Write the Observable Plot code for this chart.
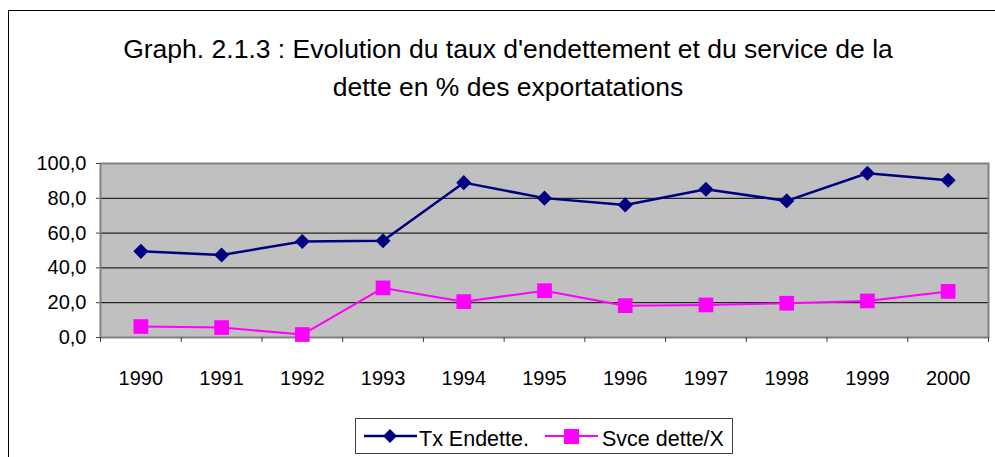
<!DOCTYPE html>
<html>
<head>
<meta charset="utf-8">
<script src="https://cdn.jsdelivr.net/npm/d3@7"></script>
<script src="https://cdn.jsdelivr.net/npm/@observablehq/plot@0.6"></script>
<style>
  body { margin: 0; background: #fff; font-family: "Liberation Sans", Arial, sans-serif; }
  #wrap { position: relative; width: 995px; height: 457px; overflow: hidden; background: #fff; }
  #border { position: absolute; left: 8px; top: 10px; width: 1100px; height: 600px; border: 1px solid #000; box-sizing: border-box; }
  #title { position: absolute; left: 0; top: 30px; width: 1016px; text-align: center; font-size: 26.5px; line-height: 38px; color: #000; white-space: nowrap; }
  #chart { position: absolute; left: 0; top: 140px; }
  #legend { position: absolute; left: 355px; top: 418px; width: 378px; height: 36px; border: 1px solid #404040; box-sizing: border-box; background: #fff; }
  #legend .sw { position: absolute; top: 0; }
  #legend .lb { position: absolute; top: 10px; font-size: 21.5px; line-height: 21px; color: #000; white-space: nowrap; }
</style>
</head>
<body>
<div id="wrap">
  <div id="border"></div>
  <div id="title">Graph. 2.1.3 : Evolution du taux d'endettement et du service de la<br>dette en % des exportatations</div>
  <div id="chart"></div>
  <div id="legend"></div>
</div>
<script>
const years = [1990, 1991, 1992, 1993, 1994, 1995, 1996, 1997, 1998, 1999, 2000];
const txEndette = [49.5, 47.4, 55.2, 55.6, 89.0, 80.1, 76.2, 85.2, 78.5, 94.4, 90.4];
const svceDette = [6.3, 5.7, 1.7, 28.5, 20.6, 26.9, 18.3, 18.7, 19.7, 21.0, 26.5];
const yTicks = [0, 20, 40, 60, 80, 100];
const gridTicks = [20, 40, 60, 80];
const seriesNames = ["Tx Endette.", "Svce dette/X"];
const seriesColors = ["#000080", "#ff00ff"];

const data1 = years.map((year, i) => ({year, value: txEndette[i]}));
const data2 = years.map((year, i) => ({year, value: svceDette[i]}));
const bounds = [...years.map(y => y - 0.5), years[years.length - 1] + 0.5];

const chart = Plot.plot({
  width: 995,
  height: 260,
  marginLeft: 100,
  marginRight: 7,
  marginTop: 23,
  marginBottom: 63,
  x: {type: "linear", domain: [bounds[0], bounds[bounds.length - 1]], label: null},
  y: {domain: [0, 100], label: null},
  style: {fontFamily: "'Liberation Sans', Arial, sans-serif", fontSize: "20px", color: "#000", background: "transparent", overflow: "visible"},
  marks: [
    Plot.frame({fill: "#c0c0c0"}),
    Plot.gridY(gridTicks, {stroke: "#000", strokeOpacity: 1, strokeWidth: 1}),
    Plot.frame({stroke: "#808080", strokeWidth: 2}),
    Plot.axisY(yTicks, {tickSize: 4, tickPadding: 10, stroke: "#404040", tickFormat: d => d.toFixed(1).replace(".", ",")}),
    Plot.axisX(bounds, {tickSize: 5, stroke: "#404040", tickFormat: () => ""}),
    Plot.axisX(years, {tickSize: 0, tickPadding: 33, tickFormat: d => String(d)}),
    Plot.line(data1, {x: "year", y: "value", stroke: seriesColors[0], strokeWidth: 2.5}),
    Plot.dot(data1, {x: "year", y: "value", symbol: "diamond2", r: 6.8, fill: seriesColors[0], stroke: "none"}),
    Plot.line(data2, {x: "year", y: "value", stroke: seriesColors[1], strokeWidth: 2}),
    Plot.dot(data2, {x: "year", y: "value", symbol: "square", r: 8.3, fill: seriesColors[1], stroke: "none"})
  ]
});
document.getElementById("chart").appendChild(chart);

// Legend
const legend = document.getElementById("legend");
const ns = "http://www.w3.org/2000/svg";
const items = [
  {name: seriesNames[0], color: seriesColors[0], sym: "diamond", swLeft: 7, textLeft: 63},
  {name: seriesNames[1], color: seriesColors[1], sym: "square", swLeft: 188, textLeft: 246}
];
items.forEach(it => {
  const svg = document.createElementNS(ns, "svg");
  svg.setAttribute("class", "sw");
  svg.setAttribute("width", "56");
  svg.setAttribute("height", "34");
  svg.style.left = it.swLeft + "px";
  const line = document.createElementNS(ns, "line");
  line.setAttribute("x1", "1"); line.setAttribute("x2", "54");
  line.setAttribute("y1", "17"); line.setAttribute("y2", "17");
  line.setAttribute("stroke", it.color);
  line.setAttribute("stroke-width", it.sym === "diamond" ? "2.5" : "2");
  svg.appendChild(line);
  const p = document.createElementNS(ns, "path");
  if (it.sym === "diamond") p.setAttribute("d", "M27,10L34,17L27,24L20,17Z");
  else p.setAttribute("d", "M20,10H35V25H20Z");
  p.setAttribute("fill", it.color);
  svg.appendChild(p);
  legend.appendChild(svg);
  const s = document.createElement("span");
  s.className = "lb";
  s.style.left = it.textLeft + "px";
  s.textContent = it.name;
  legend.appendChild(s);
});
</script>
</body>
</html>
